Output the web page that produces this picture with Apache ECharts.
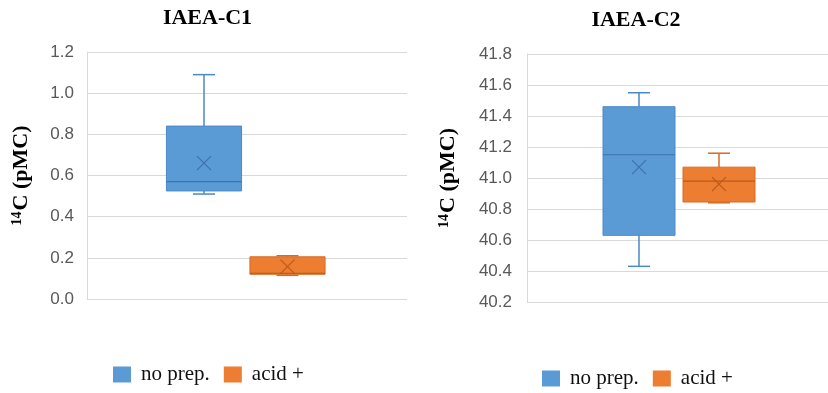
<!DOCTYPE html>
<html>
<head>
<meta charset="utf-8">
<script src="https://cdn.jsdelivr.net/npm/echarts@6/dist/echarts.min.js"></script>
<style>
html,body{margin:0;padding:0;background:#fff;}
#chart{width:828px;height:393px;}
</style>
</head>
<body>
<div id="chart"></div>
<script>
// ---- data ----
const categories = ['no prep.', 'acid +'];
const titles = ['IAEA-C1', 'IAEA-C2'];
// [min, Q1, median, Q3, max]
const c1NoPrep = [0.51, 0.525, 0.57, 0.84, 1.09];
const c1Acid = [0.115, 0.12, 0.125, 0.205, 0.21];
const c1Means = [0.66, 0.157];
const c2NoPrep = [40.43, 40.63, 41.15, 41.46, 41.55];
const c2Acid = [40.84, 40.845, 40.98, 41.07, 41.16];
const c2Means = [41.07, 40.96];
const c1Axis = [0, 1.2, 0.2];      // min, max, interval
const c2Axis = [40.2, 41.8, 0.2];

const fills = ['#5b9bd5', '#ed7d31'];
const strokes = ['#4a89c8', '#d56c25'];
const marks = ['#3d73ad', '#b95a1b'];

function makeRender(ci) {
  return function (params, api) {
    const cat = api.value(0);
    const lo = api.coord([cat, api.value(1)]);
    const q1 = api.coord([cat, api.value(2)]);
    const md = api.coord([cat, api.value(3)]);
    const q3 = api.coord([cat, api.value(4)]);
    const hi = api.coord([cat, api.value(5)]);
    const mn = api.coord([cat, api.value(6)]);
    const band = api.size([1, 0])[0];
    const bw = band * 0.9;
    const cx = lo[0];
    const half = bw / 2, cap = 11, m = 7;
    const ls = {stroke: strokes[ci], lineWidth: 1.5};
    return {
      type: 'group',
      children: [
        {type: 'line', shape: {x1: cx, y1: hi[1], x2: cx, y2: q3[1]}, style: ls},
        {type: 'line', shape: {x1: cx - cap, y1: hi[1], x2: cx + cap, y2: hi[1]}, style: ls},
        {type: 'line', shape: {x1: cx, y1: lo[1], x2: cx, y2: q1[1]}, style: ls},
        {type: 'line', shape: {x1: cx - cap, y1: lo[1], x2: cx + cap, y2: lo[1]}, style: ls},
        {type: 'rect', shape: {x: cx - half, y: q3[1], width: bw, height: q1[1] - q3[1]},
          style: {fill: fills[ci], stroke: strokes[ci], lineWidth: 1}},
        {type: 'line', shape: {x1: cx - half, y1: md[1], x2: cx + half, y2: md[1]},
          style: {stroke: marks[ci], lineWidth: 1.2}},
        {type: 'line', shape: {x1: cx - m, y1: mn[1] - m, x2: cx + m, y2: mn[1] + m},
          style: {stroke: marks[ci], lineWidth: 1.2}},
        {type: 'line', shape: {x1: cx - m, y1: mn[1] + m, x2: cx + m, y2: mn[1] - m},
          style: {stroke: marks[ci], lineWidth: 1.2}}
      ]
    };
  };
}

const labelStyle = {color: '#595959', fontFamily: 'Liberation Sans', fontSize: 17};
const nameStyle = {
  fontFamily: 'Liberation Serif', fontWeight: 'bold', color: '#000',
  rich: {
    sup: {fontFamily: 'Liberation Serif', fontWeight: 'bold', fontSize: 14, color: '#000', verticalAlign: 'top', padding: [0, 1, 8, 0]},
    main: {fontFamily: 'Liberation Serif', fontWeight: 'bold', fontSize: 22, color: '#000'}
  }
};

function bgY(gi, ax, margin, gap) {
  return {
    type: 'value', gridIndex: gi, min: ax[0], max: ax[1], interval: ax[2],
    axisLine: {show: true, lineStyle: {color: '#d9d9d9', width: 1}},
    axisTick: {show: false},
    axisLabel: Object.assign({margin: margin, formatter: v => v.toFixed(1)}, labelStyle),
    splitLine: {show: true, lineStyle: {color: '#d9d9d9', width: 1.2}},
    name: '{sup|14}{main|C (pMC)}', nameLocation: 'middle', nameRotate: 90, nameGap: gap,
    nameTextStyle: nameStyle
  };
}
function boxY(gi, ax) {
  return {type: 'value', gridIndex: gi, min: ax[0], max: ax[1], interval: ax[2], show: false};
}

function row(stats, i, means) {
  return [i].concat(stats, [means[i]]);
}

const legendText = {fontFamily: 'Liberation Serif', fontSize: 21, color: '#111', padding: [0, 0, 0, 5]};

const option = {
  animation: false,
  backgroundColor: '#fff',
  graphic: [
    {type: 'text', x: 207.5, y: 18, style: {text: titles[0], align: 'center', verticalAlign: 'middle',
      font: 'bold 22px "Liberation Serif"', fill: '#000'}},
    {type: 'text', x: 636, y: 20.5, style: {text: titles[1], align: 'center', verticalAlign: 'middle',
      font: 'bold 22px "Liberation Serif"', fill: '#000'}}
  ],
  grid: [
    {left: 87, width: 320, top: 52, height: 247},
    {left: 162.25, width: 167, top: 52, height: 247},
    {left: 527, width: 305, top: 54, height: 248},
    {left: 599, width: 160, top: 54, height: 248}
  ],
  xAxis: [
    {type: 'category', gridIndex: 0, data: [''], show: false},
    {type: 'category', gridIndex: 1, data: categories, show: false},
    {type: 'category', gridIndex: 2, data: [''], show: false},
    {type: 'category', gridIndex: 3, data: categories, show: false}
  ],
  yAxis: [
    bgY(0, c1Axis, 13, 55),
    boxY(1, c1Axis),
    bgY(2, c2Axis, 15, 68),
    boxY(3, c2Axis)
  ],
  legend: [
    {left: 113, top: 364, padding: 0, icon: 'rect', itemWidth: 18, itemHeight: 16, itemGap: 14,
      data: categories, textStyle: legendText},
    {left: 542, top: 368, padding: 0, icon: 'rect', itemWidth: 18, itemHeight: 16, itemGap: 14,
      data: categories, textStyle: legendText}
  ],
  series: [
    {type: 'custom', name: categories[0], xAxisIndex: 1, yAxisIndex: 1, itemStyle: {color: fills[0]},
      renderItem: makeRender(0), encode: {x: 0, y: [1, 2, 3, 4, 5, 6]}, data: [row(c1NoPrep, 0, c1Means)]},
    {type: 'custom', name: categories[1], xAxisIndex: 1, yAxisIndex: 1, itemStyle: {color: fills[1]},
      renderItem: makeRender(1), encode: {x: 0, y: [1, 2, 3, 4, 5, 6]}, data: [row(c1Acid, 1, c1Means)]},
    {type: 'custom', name: categories[0], xAxisIndex: 3, yAxisIndex: 3, itemStyle: {color: fills[0]},
      renderItem: makeRender(0), encode: {x: 0, y: [1, 2, 3, 4, 5, 6]}, data: [row(c2NoPrep, 0, c2Means)]},
    {type: 'custom', name: categories[1], xAxisIndex: 3, yAxisIndex: 3, itemStyle: {color: fills[1]},
      renderItem: makeRender(1), encode: {x: 0, y: [1, 2, 3, 4, 5, 6]}, data: [row(c2Acid, 1, c2Means)]}
  ]
};

const chart = echarts.init(document.getElementById('chart'), null, {renderer: 'canvas'});
chart.setOption(option);
</script>
</body>
</html>
